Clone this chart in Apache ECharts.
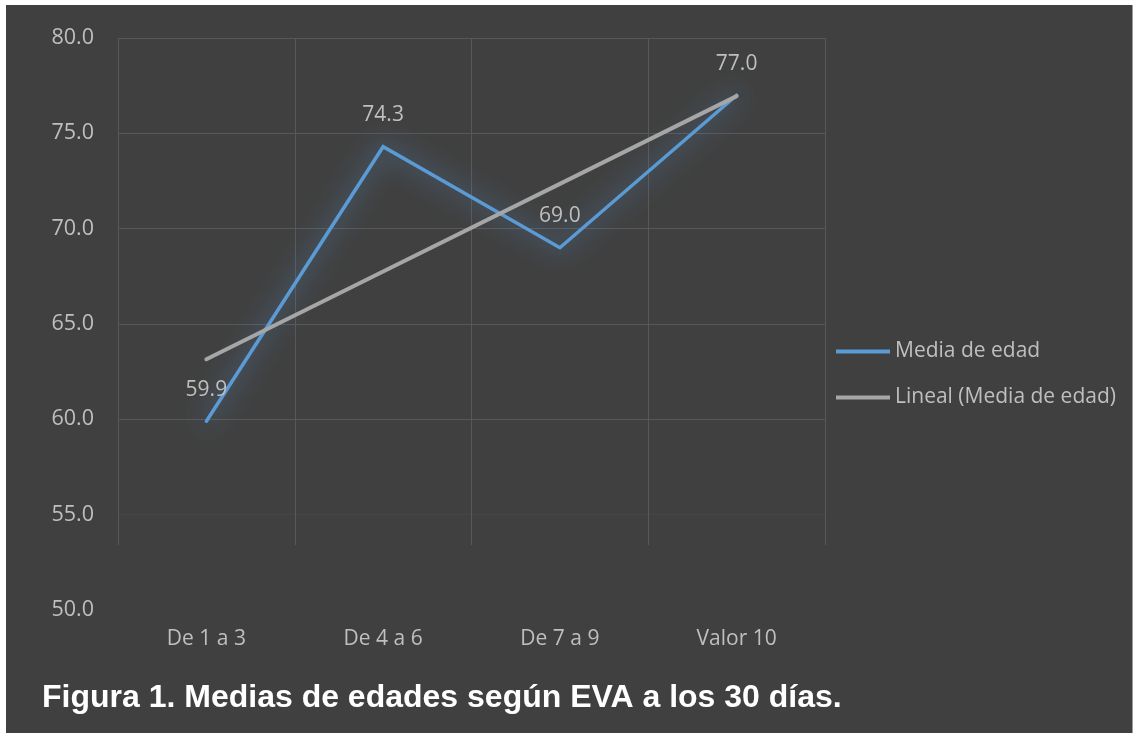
<!DOCTYPE html>
<html>
<head>
<meta charset="utf-8">
<script src="https://cdn.jsdelivr.net/npm/echarts@6/dist/echarts.min.js"></script>
<style>
  html, body { margin: 0; padding: 0; background: #ffffff; width: 1133px; height: 733px; overflow: hidden; }
  #chart { position: absolute; left: 6px; top: 5px; width: 1126px; height: 728px; background: #404040; }
  #edge { position: absolute; left: 1132px; top: 5px; width: 1px; height: 728px; background: #9a9a9a; }
</style>
</head>
<body>
<div id="chart"></div>
<div id="edge"></div>
<script>
const categories = ['De 1 a 3', 'De 4 a 6', 'De 7 a 9', 'Valor 10'];
const mediaEdad = [59.9, 74.3, 69.0, 77.0];
const linealMedia = [63.15, 67.75, 72.35, 76.95];
const seriesNames = ['Media de edad', 'Lineal (Media de edad)'];
const captionText = 'Figura 1. Medias de edades según EVA a los 30 días.';

const FONT = '"Open Sans", "Noto Sans", sans-serif';
const chart = echarts.init(document.getElementById('chart'), null, { renderer: 'canvas' });

chart.setOption({
  backgroundColor: '#404040',
  animation: false,
  grid: [
    { left: 112, top: 33, width: 707, height: 572, containLabel: false },
    { left: 112, top: 33, width: 707, height: 507, containLabel: false }
  ],
  xAxis: [
    {
      type: 'category', gridIndex: 0, data: categories, boundaryGap: true,
      axisLine: { show: false }, axisTick: { show: false },
      axisLabel: { color: '#bfbfbf', fontFamily: FONT, fontSize: 21, margin: 19 },
      splitLine: { show: false }
    },
    {
      type: 'category', gridIndex: 1, data: categories, boundaryGap: true,
      axisLine: { show: false }, axisTick: { show: false }, axisLabel: { show: false },
      splitLine: { show: true, interval: 0, lineStyle: { color: '#585858', width: 1 } }
    }
  ],
  yAxis: [
    {
      type: 'value', gridIndex: 0, min: 50, max: 80, interval: 5,
      axisLine: { show: false }, axisTick: { show: false },
      axisLabel: { color: '#bfbfbf', fontFamily: FONT, fontSize: 21.5, margin: 24,
        formatter: v => v.toFixed(1) },
      splitLine: { show: true, lineStyle: {
        color: ['rgba(0,0,0,0)', '#464646', '#585858', '#585858', '#585858', '#585858', '#585858'], width: 1 } }
    },
    {
      type: 'value', gridIndex: 1, show: false, min: 0, max: 1
    }
  ],
  legend: {
    orient: 'vertical', left: 830, top: 336, itemGap: 25, padding: 0,
    itemWidth: 54, itemHeight: 4, icon: 'rect',
    textStyle: { color: '#bfbfbf', fontFamily: FONT, fontSize: 21 },
    data: seriesNames
  },
  series: [
    {
      name: seriesNames[0], type: 'line', xAxisIndex: 0, yAxisIndex: 0,
      data: mediaEdad, symbol: 'circle', symbolSize: 2, showSymbol: true, z: 3,
      itemStyle: { color: '#5b9bd5' },
      lineStyle: { color: '#5b9bd5', width: 3.5, cap: 'round', join: 'miter',
        shadowColor: 'rgba(91,155,213,1)', shadowBlur: 26 },
      label: { show: true, position: 'top', distance: 20, color: '#bfbfbf',
        fontFamily: FONT, fontSize: 21, formatter: p => p.value.toFixed(1) }
    },
    {
      name: seriesNames[1], type: 'line', xAxisIndex: 0, yAxisIndex: 0,
      data: linealMedia, symbol: 'none', z: 4,
      itemStyle: { color: '#a6a6a6' },
      lineStyle: { color: '#a6a6a6', width: 4, cap: 'round' }
    }
  ],
  graphic: [
    {
      type: 'text', left: 36, top: 677,
      style: { text: captionText, fill: '#ffffff',
        font: 'bold 32px "Liberation Sans", Arial, sans-serif' }
    }
  ]
});
</script>
</body>
</html>
